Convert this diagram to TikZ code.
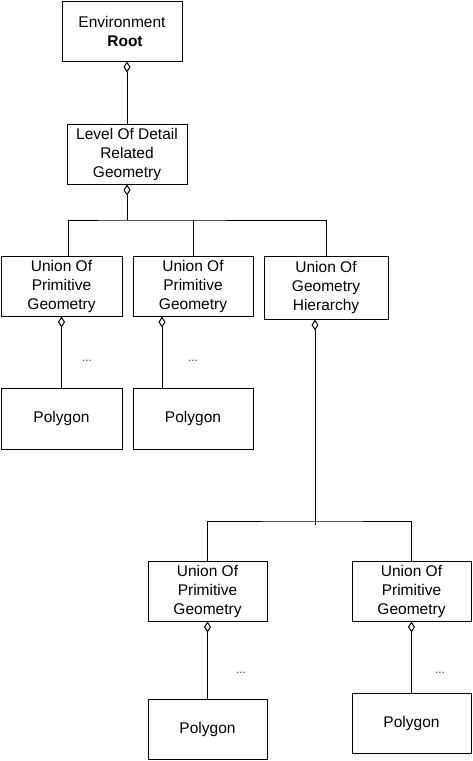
\documentclass[tikz,border=0pt]{standalone}
\usepackage{fontspec}
\setmainfont{Liberation Sans}
\usetikzlibrary{arrows.meta}
\begin{document}
\begin{tikzpicture}[x=1pt,y=-1pt,line width=1pt,
  box/.style={draw,rectangle,align=center,inner sep=0pt,font=\fontsize{15.5}{19}\selectfont},
  agg/.style={{Diamond[open,length=11pt,width=7pt,line width=1pt]}-},
  dots/.style={font=\fontsize{12}{14}\selectfont,inner sep=0pt,text=black!75}]
\useasboundingbox (0,0) rectangle (472,761);
\node[box,minimum width=120,minimum height=60] (env) at (122,31) {Environment\\\hspace*{6pt}\textbf{Root}};
\node[box,minimum width=120,minimum height=60] (lod) at (127,154) {Level Of Detail\\Related\\Geometry};
\node[box,minimum width=121,minimum height=60] (upg1) at (61.5,286) {Union Of\\Primitive\\Geometry};
\node[box,minimum width=120,minimum height=60] (upg2) at (193,286) {Union Of\\Primitive\\Geometry};
\node[box,minimum width=124,minimum height=63] (ugh) at (326,287.5) {Union Of\\Geometry\\Hierarchy};
\node[box,minimum width=121,minimum height=61] (poly1) at (61.5,418.5) {Polygon};
\node[box,minimum width=120,minimum height=61] (poly2) at (193,418.5) {Polygon};
\node[box,minimum width=119,minimum height=60] (upg3) at (207.5,591) {Union Of\\Primitive\\Geometry};
\node[box,minimum width=119,minimum height=60] (upg4) at (411.5,591) {Union Of\\Primitive\\Geometry};
\node[box,minimum width=119,minimum height=60] (poly3) at (207.5,729) {Polygon};
\node[box,minimum width=119,minimum height=60] (poly4) at (411.5,723) {Polygon};
\node[dots] (d1) at (87,361) {...};
\node[dots] (d2) at (193,361) {...};
\node[dots] (d3) at (241,673) {...};
\node[dots] (d4) at (440,673) {...};
\coordinate (bar1) at (127,220);
\coordinate (bar2) at (315,521);
\coordinate (ughend) at (315,525);
% connectors
\draw[agg] (env.south -| lod.north) -- (lod.north);
\draw[agg] (lod.south) -- (bar1);
\draw ([xshift=6.5pt]upg1.north) |- (bar1) -| (ugh.north);
\draw (upg2.north) -- (upg2.north |- bar1);
\draw[agg] (upg1.south) -- (poly1.north);
\draw[agg] ([xshift=-31pt]upg2.south) -- ([xshift=-31pt]poly2.north);
\draw[agg] ([xshift=-11pt]ugh.south) -- (ughend);
\draw (upg3.north) |- (bar2) -| (upg4.north);
\draw[agg] (upg3.south) -- (poly3.north);
\draw[agg] (upg4.south) -- (poly4.north);
\end{tikzpicture}
\end{document}
